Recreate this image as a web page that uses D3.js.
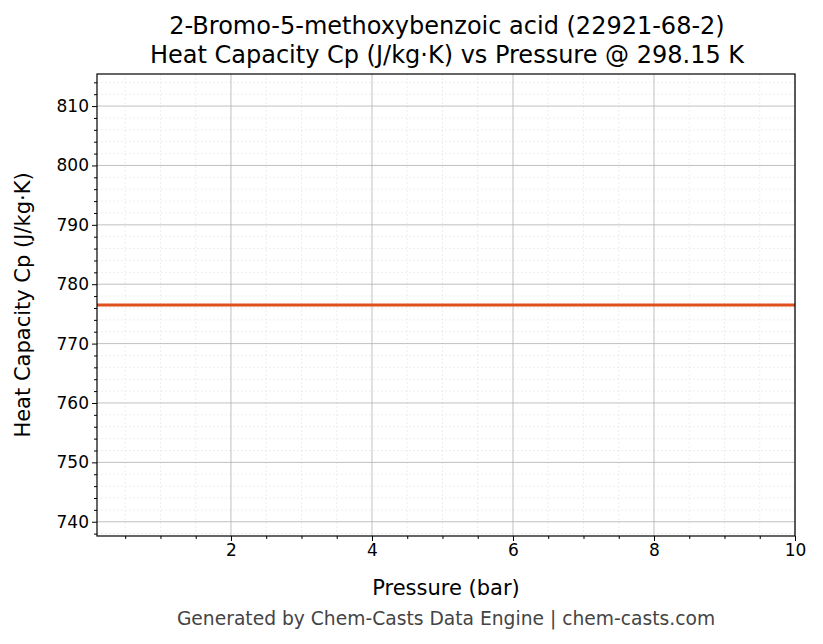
<!DOCTYPE html><html><head><meta charset="utf-8">
<script src="https://cdn.jsdelivr.net/npm/d3@7"></script>
<style>body{margin:0;background:#fff}text{font-family:"DejaVu Sans",sans-serif}</style></head><body>
<svg id="c" width="823" height="644"></svg>
<script>
const pressures=[0.1,1,2,3,4,5,6,7,8,9,10];
const cpValues=[776.5,776.5,776.5,776.5,776.5,776.5,776.5,776.5,776.5,776.5,776.5];
const xTicks=[2,4,6,8,10];
const yTicks=[740,750,760,770,780,790,800,810];
const svg=d3.select("#c");
const L=97,R=795,T=74,B=536;
const x=d3.scaleLinear().domain([0.1,10]).range([L,R]);
const y=d3.scaleLinear().domain([737.6,815.4]).range([B,T]);
const g=svg.append("g");
const xMinor=d3.range(0.5,10.01,0.5).filter(v=>v>0.1&&!xTicks.includes(v));
const yMinor=d3.range(738,815.4,2).filter(v=>v%10!==0);
g.selectAll(".xm").data(xMinor).enter().append("line").attr("x1",d=>x(d)).attr("x2",d=>x(d)).attr("y1",T).attr("y2",B).attr("stroke","#ddd").attr("stroke-width",0.5).attr("stroke-dasharray","2,2");
g.selectAll(".ym").data(yMinor).enter().append("line").attr("y1",d=>y(d)).attr("y2",d=>y(d)).attr("x1",L).attr("x2",R).attr("stroke","#ddd").attr("stroke-width",0.5).attr("stroke-dasharray","2,2");
g.selectAll(".xg").data(xTicks).enter().append("line").attr("x1",d=>x(d)).attr("x2",d=>x(d)).attr("y1",T).attr("y2",B).attr("stroke","#b0b0b0").attr("stroke-width",0.8);
g.selectAll(".yg").data(yTicks).enter().append("line").attr("y1",d=>y(d)).attr("y2",d=>y(d)).attr("x1",L).attr("x2",R).attr("stroke","#b0b0b0").attr("stroke-width",0.8);
svg.append("path").datum(pressures.map((p,i)=>[p,cpValues[i]])).attr("fill","none").attr("stroke","#e0501e").attr("stroke-width",3)
 .attr("d",d3.line().x(d=>x(d[0])).y(d=>y(d[1])));
const xa=svg.append("g").attr("transform",`translate(0,${B})`).call(d3.axisBottom(x).tickValues(xTicks).tickSize(5).tickFormat(d3.format("d")));
const xm=svg.append("g").attr("transform",`translate(0,${B})`).call(d3.axisBottom(x).tickValues(xMinor).tickSize(3).tickFormat(""));
const ya=svg.append("g").attr("transform",`translate(${L},0)`).call(d3.axisLeft(y).tickValues(yTicks).tickSize(5));
const ym=svg.append("g").attr("transform",`translate(${L},0)`).call(d3.axisLeft(y).tickValues(yMinor).tickSize(3).tickFormat(""));
[xa,xm,ya,ym].forEach(a=>{a.select(".domain").remove();a.selectAll("text").attr("font-size",17).attr("fill","#000").style("font-family","DejaVu Sans");a.selectAll("line").attr("stroke","#000");});
svg.append("rect").attr("x",L).attr("y",T).attr("width",R-L).attr("height",B-T).attr("fill","none").attr("stroke","#000").attr("stroke-width",1.2);
svg.append("text").attr("x",447).attr("y",34).attr("text-anchor","middle").attr("font-size",24).text("2-Bromo-5-methoxybenzoic acid (22921-68-2)");
svg.append("text").attr("x",447).attr("y",63).attr("text-anchor","middle").attr("font-size",24).text("Heat Capacity Cp (J/kg·K) vs Pressure @ 298.15 K");
svg.append("text").attr("x",446).attr("y",595).attr("text-anchor","middle").attr("font-size",21).text("Pressure (bar)");
svg.append("text").attr("transform","translate(30,305) rotate(-90)").attr("text-anchor","middle").attr("font-size",21).text("Heat Capacity Cp (J/kg·K)");
svg.append("text").attr("x",446).attr("y",625).attr("text-anchor","middle").attr("font-size",18.7).attr("fill","#444").text("Generated by Chem-Casts Data Engine | chem-casts.com");
</script></body></html>
